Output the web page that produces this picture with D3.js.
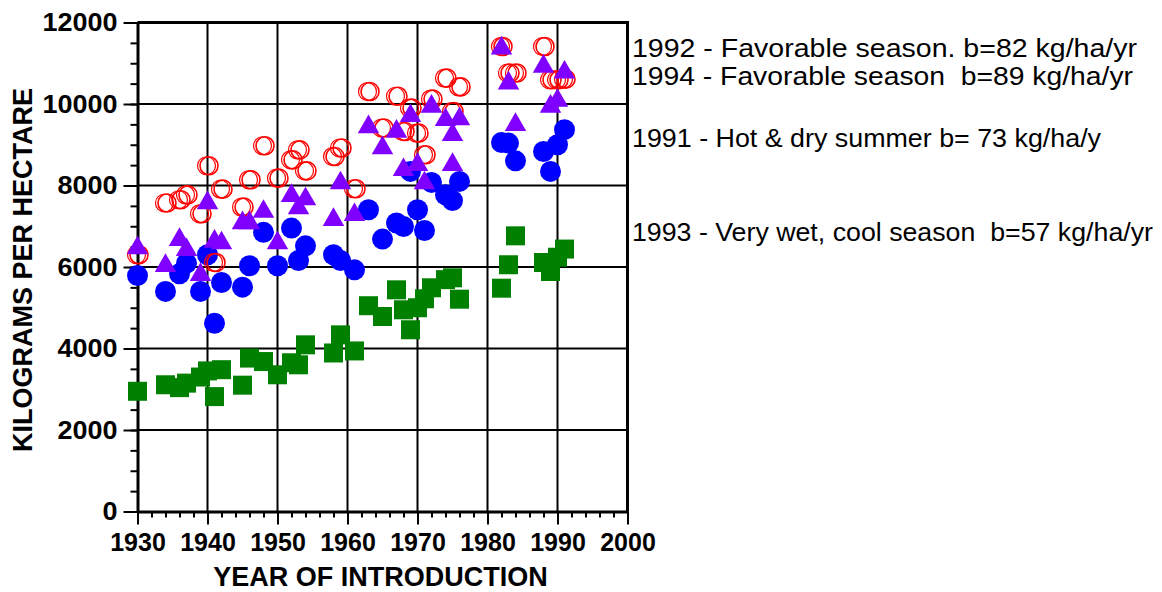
<!DOCTYPE html>
<html>
<head>
<meta charset="utf-8">
<script src="https://cdn.jsdelivr.net/npm/d3@7"></script>
<style>
  body { margin: 0; background: #fff; }
  svg { display: block; }
  text { font-family: "Liberation Sans", Arial, sans-serif; }
</style>
</head>
<body>
<div class="chart"></div>
<script>
// 1993 - very wet, cool season (green squares)
const yearsWet = [1930, 1934, 1936, 1937, 1939, 1940, 1941, 1942, 1945, 1946, 1948, 1950, 1952, 1953, 1954, 1958, 1959, 1961,
  1963, 1965, 1967, 1968, 1969, 1970, 1971, 1972, 1974, 1975, 1976, 1982, 1983, 1984, 1988, 1989, 1990, 1991];
const yieldWet = [2950, 3110, 3040, 3150, 3300, 3450, 2820, 3480, 3100, 3765, 3680, 3355, 3650, 3600, 4090, 3890, 4335, 3940,
  5050, 4785, 5440, 4950, 4460, 5000, 5220, 5490, 5690, 5735, 5210, 5480, 6055, 6765, 6110, 5890, 6240, 6440];

// 1991 - hot & dry summer (blue dots)
const yearsHot = [1930, 1934, 1936, 1937, 1939, 1940, 1941, 1942, 1945, 1946, 1948, 1950, 1952, 1953, 1954, 1958, 1959, 1961,
  1963, 1965, 1967, 1968, 1969, 1970, 1971, 1972, 1974, 1975, 1976, 1982, 1983, 1984, 1988, 1989, 1990, 1991];
const yieldHot = [5790, 5400, 5835, 6095, 5400, 6300, 4620, 5620, 5505, 6030, 6850, 6030, 6955, 6160, 6520, 6300, 6160, 5930,
  7405, 6685, 7080, 6995, 8345, 7405, 6895, 8075, 7770, 7630, 8100, 9055, 9040, 8605, 8835, 8345, 9000, 9370];

// 1992 - favorable season (red open circles)
const yearsFav92 = [1930, 1934, 1936, 1937, 1939, 1940, 1941, 1942, 1945, 1946, 1948, 1950, 1952, 1953, 1954, 1958, 1959, 1961,
  1963, 1965, 1967, 1968, 1969, 1970, 1971, 1972, 1974, 1975, 1976, 1982, 1983, 1984, 1988, 1989, 1990, 1991];
const yieldFav92 = [6300, 7570, 7650, 7770, 7305, 8485, 6110, 7910, 7470, 8140, 8975, 8180, 8630, 8875, 8360, 8710, 8920, 7920,
  10305, 9410, 10190, 9325, 9900, 9285, 8755, 10120, 10635, 9815, 10420, 11410, 10760, 10760, 11410, 10595, 10595, 10610];

// 1994 - favorable season (purple triangles)
const yearsFav94 = [1930, 1934, 1936, 1937, 1939, 1940, 1941, 1942, 1945, 1946, 1948, 1950, 1952, 1953, 1954, 1958, 1959, 1961,
  1963, 1965, 1967, 1968, 1969, 1970, 1971, 1972, 1974, 1975, 1975, 1976, 1982, 1983, 1984, 1988, 1989, 1990, 1991];
const yieldFav94 = [6465, 6030, 6670, 6420, 5810, 7570, 6625, 6585, 7080, 7080, 7360, 6585, 7750, 7445, 7665, 7160, 8060, 7280,
  9435, 8920, 9325, 8385, 9710, 8510, 8060, 9940, 9610, 9245, 8510, 9630, 11370, 10510, 9490, 10920, 9940, 10085, 10775];

const xTicks = [1930, 1940, 1950, 1960, 1970, 1980, 1990, 2000];
const yTicks = [0, 2000, 4000, 6000, 8000, 10000, 12000];

const legendLines = [
  "1992 - Favorable season. b=82 kg/ha/yr",
  "1994 - Favorable season  b=89 kg/ha/yr",
  "1991 - Hot & dry summer b= 73 kg/ha/y",
  "1993 - Very wet, cool season  b=57 kg/ha/yr"
];

const width = 1162, height = 592;
const margin = {top: 22.5, right: 534.5, bottom: 80.5, left: 137.5};
const plotW = width - margin.left - margin.right;
const plotH = height - margin.top - margin.bottom;

const svg = d3.select(".chart").append("svg")
  .attr("width", width)
  .attr("height", height);

const x = d3.scaleLinear().domain([1930, 2000]).range([0, plotW]);
const y = d3.scaleLinear().domain([0, 12000]).range([plotH, 0]);

const graph = svg.append("g")
  .attr("transform", `translate(${margin.left}, ${margin.top})`);

// grid
graph.append("g").selectAll("line")
  .data(xTicks.slice(1, -1))
  .join("line")
    .attr("x1", d => x(d)).attr("x2", d => x(d))
    .attr("y1", 0).attr("y2", plotH)
    .attr("stroke", "#000").attr("stroke-width", 2);
graph.append("g").selectAll("line")
  .data(yTicks.slice(1, -1))
  .join("line")
    .attr("x1", 0).attr("x2", plotW)
    .attr("y1", d => y(d)).attr("y2", d => y(d))
    .attr("stroke", "#000").attr("stroke-width", 2);

// frame (top and right)
graph.append("path")
  .attr("d", `M0,0H${plotW}V${plotH}`)
  .attr("fill", "none").attr("stroke", "#000").attr("stroke-width", 3);

// minor ticks
const xAxisMinor = d3.axisBottom(x).ticks(35).tickSize(6).tickFormat("");
const yAxisMinor = d3.axisLeft(y).ticks(24).tickSize(7).tickFormat("");
graph.append("g").attr("transform", `translate(0, ${plotH})`).call(xAxisMinor)
  .call(g => g.select(".domain").remove())
  .call(g => g.selectAll("line").attr("stroke-width", 2));
graph.append("g").call(yAxisMinor)
  .call(g => g.select(".domain").remove())
  .call(g => g.selectAll("line").attr("stroke-width", 2));

// major axes
const xAxis = d3.axisBottom(x).tickValues(xTicks).tickSize(13).tickSizeOuter(0).tickPadding(9).tickFormat(d3.format("d"));
const yAxis = d3.axisLeft(y).tickValues(yTicks).tickSize(14).tickSizeOuter(0).tickPadding(6).tickFormat(d3.format("d"));

graph.append("g").attr("transform", `translate(0, ${plotH})`).call(xAxis)
  .call(g => g.select(".domain").attr("stroke-width", 3))
  .call(g => g.selectAll(".tick line").attr("stroke-width", 2))
  .call(g => g.selectAll("text").attr("font-size", 25).attr("font-weight", "bold")
    .attr("fill", "#000").attr("font-family", "Liberation Sans, Arial, sans-serif"));
graph.append("g").call(yAxis)
  .call(g => g.select(".domain").attr("stroke-width", 3))
  .call(g => g.selectAll(".tick line").attr("stroke-width", 2))
  .call(g => g.selectAll("text").attr("font-size", 25).attr("font-weight", "bold")
    .attr("fill", "#000").attr("font-family", "Liberation Sans, Arial, sans-serif")
    .attr("textLength", d => 15 * String(d).length)
    .attr("lengthAdjust", "spacingAndGlyphs"));

// axis titles
svg.append("text")
  .attr("x", margin.left + plotW / 2 - 2).attr("y", 586)
  .attr("text-anchor", "middle")
  .attr("font-size", 27).attr("font-weight", "bold")
  .text("YEAR OF INTRODUCTION");
svg.append("text")
  .attr("transform", `translate(32, ${margin.top + plotH / 2 + 3}) rotate(-90)`)
  .attr("text-anchor", "middle")
  .attr("font-size", 27).attr("font-weight", "bold")
  .text("KILOGRAMS PER HECTARE");

// series
const zip = (xs, ys) => xs.map((d, i) => ({year: d, value: ys[i]}));

graph.append("g").selectAll("path")
  .data(zip(yearsWet, yieldWet))
  .join("path")
    .attr("transform", d => `translate(${x(d.year)}, ${y(d.value)})`)
    .attr("d", d3.symbol(d3.symbolSquare, 361))
    .attr("fill", "#008000");

graph.append("g").selectAll("circle")
  .data(zip(yearsHot, yieldHot))
  .join("circle")
    .attr("cx", d => x(d.year)).attr("cy", d => y(d.value))
    .attr("r", 10.5)
    .attr("fill", "#0000ff");

const red = graph.append("g").selectAll("g")
  .data(zip(yearsFav92, yieldFav92))
  .join("g")
    .attr("transform", d => `translate(${x(d.year)}, ${y(d.value)})`);
red.append("circle").attr("cx", -1).attr("r", 9)
  .attr("fill", "none").attr("stroke", "#ff0000").attr("stroke-width", 1.2);
red.append("circle").attr("cx", 1.5).attr("r", 9)
  .attr("fill", "none").attr("stroke", "#ff0000").attr("stroke-width", 1.6);

graph.append("g").selectAll("path")
  .data(zip(yearsFav94, yieldFav94))
  .join("path")
    .attr("transform", d => `translate(${x(d.year)}, ${y(d.value)})`)
    .attr("d", d3.symbol(d3.symbolTriangle, 200))
    .attr("fill", "#8000ff");

// legend text
const legendY = [48, 76, 138, 232];
const legendW = [505, 501, 469, 521];
svg.append("g").selectAll("text")
  .data(legendLines)
  .join("text")
    .attr("x", 632)
    .attr("y", (d, i) => legendY[i])
    .attr("dy", "0.36em")
    .attr("font-size", 25)
    .attr("fill", "#000")
    .attr("textLength", (d, i) => legendW[i])
    .attr("lengthAdjust", "spacingAndGlyphs")
    .attr("xml:space", "preserve")
    .style("white-space", "pre")
    .text(d => d);
</script>
</body>
</html>
